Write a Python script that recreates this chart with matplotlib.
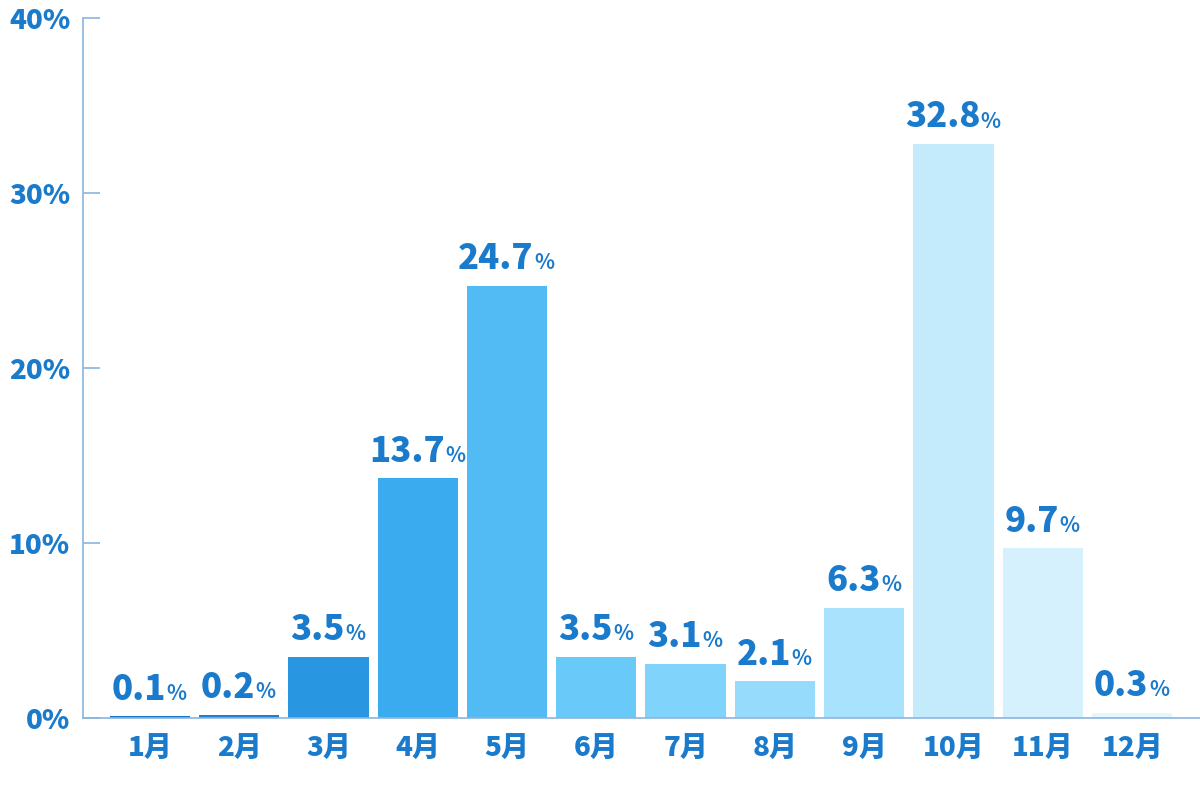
import matplotlib.pyplot as plt

plt.rcParams['font.family'] = ['Noto Sans CJK JP', 'DejaVu Sans']

months = ['1月', '2月', '3月', '4月', '5月', '6月', '7月', '8月', '9月', '10月', '11月', '12月']
values = [0.1, 0.2, 3.5, 13.7, 24.7, 3.5, 3.1, 2.1, 6.3, 32.8, 9.7, 0.3]
colors = ['#1a74c8', '#1f80d2', '#2996e2', '#3aabee', '#52bbf3', '#69c9f8',
          '#80d3fa', '#96dbfb', '#a9e2fc', '#c4ebfc', '#d5f1fd', '#e5f6fe']
yticks = [0, 10, 20, 30, 40]

text_color = '#1a7acb'
axis_color = '#8bb5de'

fig = plt.figure(figsize=(12, 8), dpi=100)
ax = fig.add_axes([0.069, 0.1025, 0.931, 0.875])

x = list(range(len(months)))
ax.bar(x, values, width=0.9, color=colors)

for xi, v in zip(x, values):
    t = ax.annotate('%.1f' % v, xy=(xi, v), xytext=(-8, 7), textcoords='offset points',
                    ha='center', va='bottom', fontsize=25, fontweight='black', color=text_color)
    ax.annotate('%', xy=(1, 0), xycoords=t, xytext=(0.5, 2), textcoords='offset points',
                ha='left', va='bottom', fontsize=15, fontweight='bold', color=text_color)

ax.set_xlim(-0.75, 11.76)
ax.set_ylim(0, 40)
ax.set_yticks(yticks)
ax.set_yticklabels(['%d%%' % t for t in yticks])
ax.set_xticks(x)
ax.set_xticklabels(months)

for lab in ax.get_yticklabels() + ax.get_xticklabels():
    lab.set_fontsize(20)
    lab.set_fontweight('black')
    lab.set_color(text_color)

ax.tick_params(axis='y', direction='in', length=12, color=axis_color, width=1.2, pad=9)
ax.tick_params(axis='x', length=0, pad=12)

ax.spines['top'].set_visible(False)
ax.spines['right'].set_visible(False)
ax.spines['left'].set_color(axis_color)
ax.spines['bottom'].set_color(axis_color)
ax.spines['left'].set_linewidth(1.2)
ax.spines['bottom'].set_linewidth(1.2)

plt.savefig('out.png', dpi=100)
